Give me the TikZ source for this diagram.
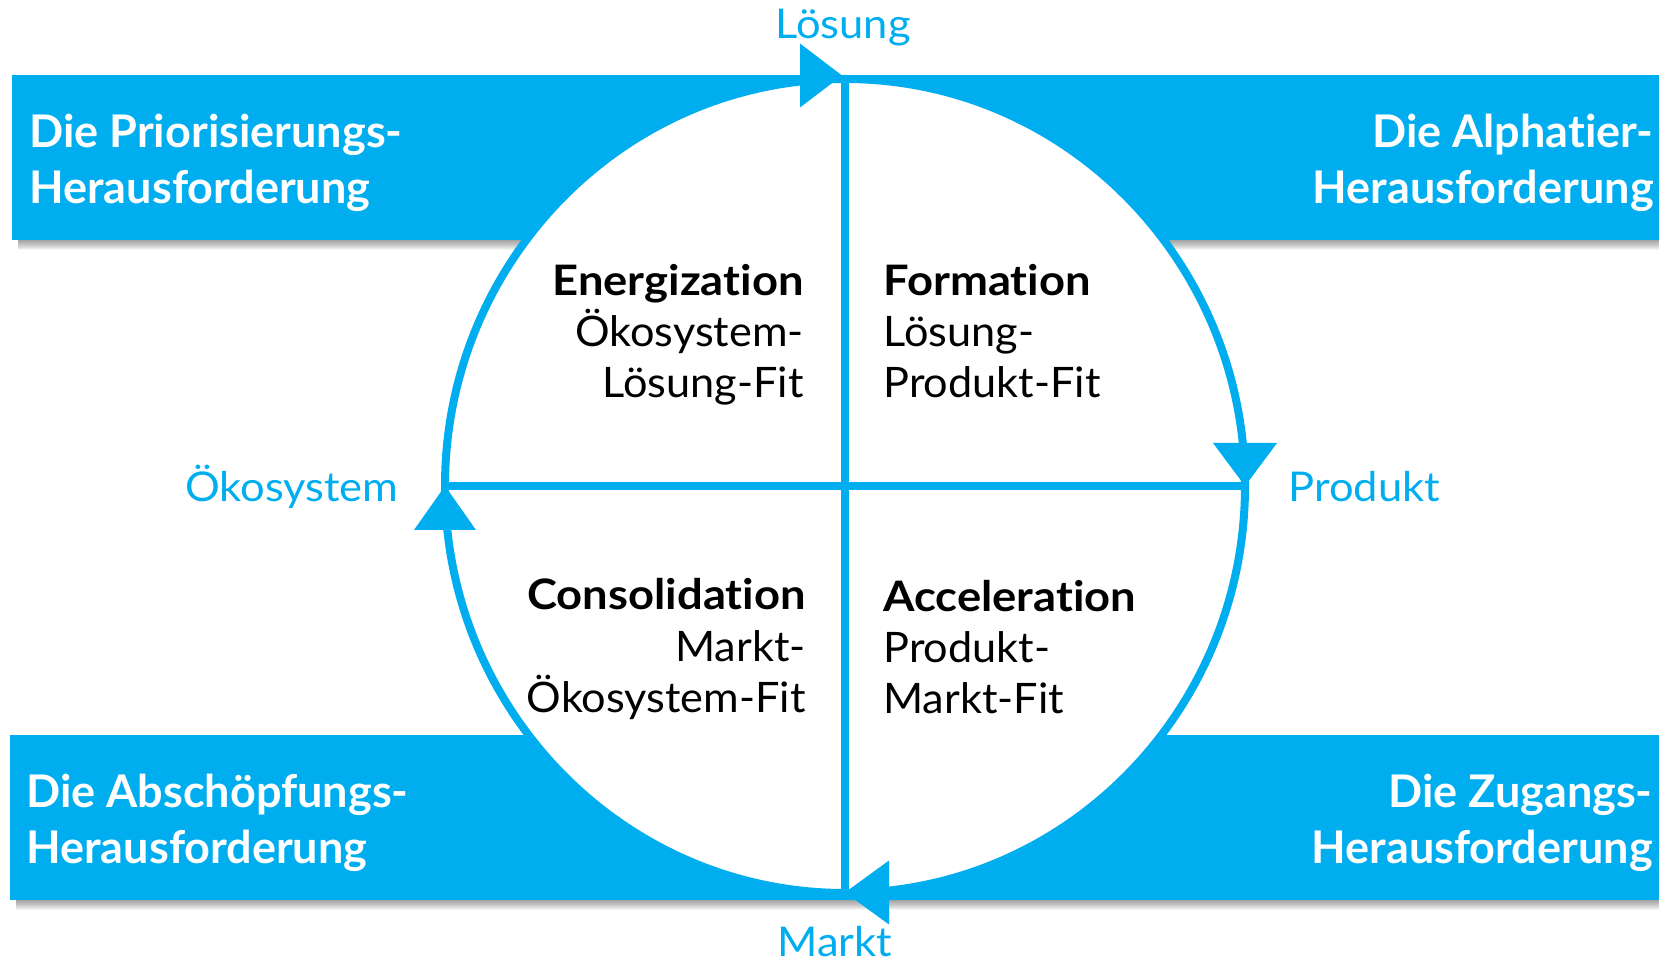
\documentclass[tikz,border=0pt]{standalone}
\usepackage{fontspec}
\setmainfont{Lato}[Ligatures=NoCommon]
\newfontfamily\labelfont{Lato}[FakeStretch=1.06, Ligatures=NoCommon]
\newfontfamily\headfont{Lato}[FakeStretch=1.08, Ligatures=NoCommon]
\newfontfamily\bodyfont{Lato}[FakeStretch=1.03, Ligatures=NoCommon]
\definecolor{cblue}{RGB}{0,174,239}
\begin{document}
\begin{tikzpicture}[x=0.5pt,y=-0.5pt,
  barfill/.style={fill=cblue, draw=none},
  shadowfill/.style={fill=black, fill opacity=0.045, draw=none},
  bartext/.style={text=white, font=\fontsize{22.5}{26}\selectfont\bfseries, inner sep=0pt},
  quadhead/.style={text=black, font=\headfont\fontsize{21}{24}\selectfont\bfseries, inner sep=0pt},
  quadtext/.style={text=black, font=\bodyfont\fontsize{21}{24}\selectfont, inner sep=0pt},
  axislabel/.style={text=cblue, font=\labelfont\fontsize{20.5}{24}\selectfont, inner sep=0pt},
  ring/.style={draw=cblue, line width=4pt, fill=white},
  axisline/.style={draw=cblue, line width=4pt},
  tipfill/.style={fill=cblue, draw=none}
]
\useasboundingbox (0,0) rectangle (1659,967);
% shadows
\foreach \k in {1,...,10} {
  \fill[shadowfill] (18,240) rectangle (1670,240+\k);
  \fill[shadowfill] (16,900) rectangle (1670,900+\k);
}
% bars
\fill[barfill] (12,75) rectangle (1670,240);
\fill[barfill] (10,735) rectangle (1670,900);
% ring
\coordinate (C) at (845,486);
\coordinate (T) at (845,79.5);
\coordinate (B) at (845,892.5);
\coordinate (L) at (445,486);
\coordinate (R) at (1245,486);
\draw[ring] (C) ellipse [x radius=200pt, y radius=203.5pt];
\draw[axisline] (T) -- (B);
\draw[axisline] (L) -- (R);
% arrow heads
\fill[tipfill] (T) ++(-3,-4) -- ++(-42,-32) -- ++(0,64) -- cycle;
\fill[tipfill] (R) -- ++(-32,-43) -- ++(64,0) -- cycle;
\fill[tipfill] (B) -- ++(44,-32) -- ++(0,64) -- cycle;
\fill[tipfill] (L) -- ++(-31,44) -- ++(62,0) -- cycle;
% axis labels
\node[axislabel, anchor=base] (lsol) at (843,39) {Lösung};
\node[axislabel, anchor=base west] (lprod) at (1288,502) {Produkt};
\node[axislabel, anchor=base east] (loko) at (399,502) {Ökosystem};
\node[axislabel, anchor=base] (lmarkt) at (835,956) {Markt};
% bar texts
\node[bartext, anchor=base west] (tl1) at (29,148) {Die Priorisierungs-};
\node[bartext, anchor=base west] (tl2) at (29,204) {Herausforderung};
\node[bartext, anchor=base east] (tr1) at (1654,148) {Die Alphatier-};
\node[bartext, anchor=base east] (tr2) at (1654,204) {Herausforderung};
\node[bartext, anchor=base west] (bl1) at (26,807) {Die Abschöpfungs-};
\node[bartext, anchor=base west] (bl2) at (26,863) {Herausforderung};
\node[bartext, anchor=base east] (br1) at (1653,807) {Die Zugangs-};
\node[bartext, anchor=base east] (br2) at (1653,863) {Herausforderung};
% quadrant texts
\node[quadhead, anchor=base east] (q1a) at (804,296) {Energization};
\node[quadtext, anchor=base east] (q1b) at (804,347) {Ökosystem-};
\node[quadtext, anchor=base east] (q1c) at (804,398) {Lösung-Fit};
\node[quadhead, anchor=base west] (q2a) at (883,296) {Formation};
\node[quadtext, anchor=base west] (q2b) at (883,347) {Lösung-};
\node[quadtext, anchor=base west] (q2c) at (883,398) {Produkt-Fit};
\node[quadhead, anchor=base east] (q3a) at (806,610) {Consolidation};
\node[quadtext, anchor=base east] (q3b) at (806,661) {Markt-};
\node[quadtext, anchor=base east] (q3c) at (806,712) {Ökosystem-Fit};
\node[quadhead, anchor=base west] (q4a) at (883,611) {Acceleration};
\node[quadtext, anchor=base west] (q4b) at (883,662) {Produkt-};
\node[quadtext, anchor=base west] (q4c) at (883,713) {Markt-Fit};
\end{tikzpicture}
\end{document}
